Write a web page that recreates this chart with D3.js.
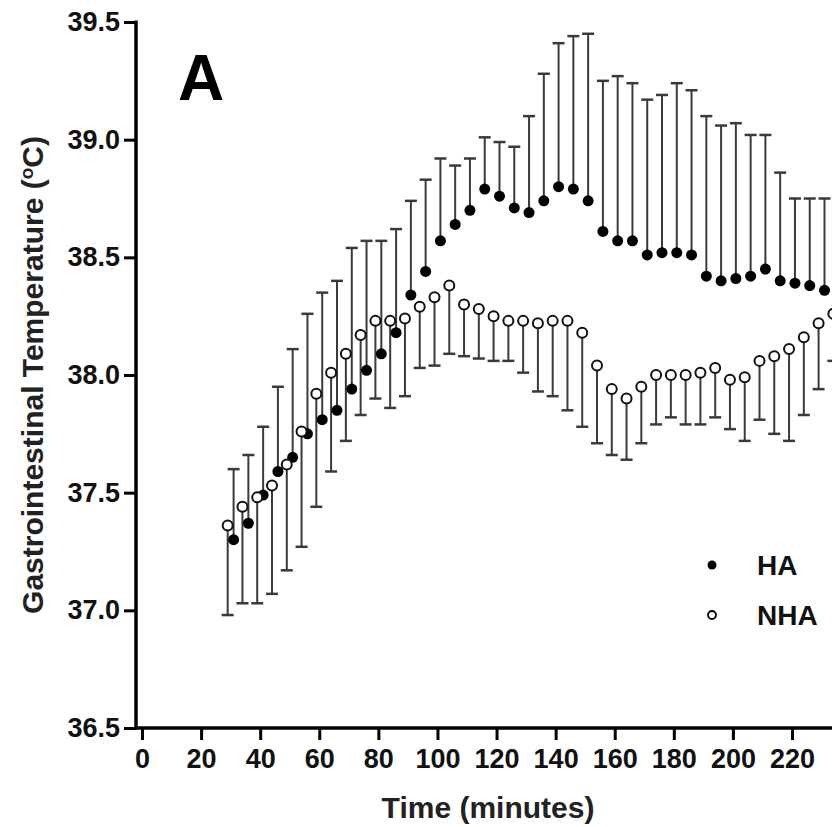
<!DOCTYPE html>
<html>
<head>
<meta charset="utf-8">
<script src="https://cdn.jsdelivr.net/npm/d3@7"></script>
<style>
  html, body { margin: 0; padding: 0; background: #fff; }
  svg { display: block; }
</style>
</head>
<body>
<svg id="chart" width="832" height="827"></svg>
<script>
// time points (minutes) - HA and NHA were sampled slightly offset
var haTime = [31, 36, 41, 46, 51, 56, 61, 66, 71, 76, 81, 86, 91, 96, 101, 106, 111, 116, 121, 126,
    131, 136, 141, 146, 151, 156, 161, 166, 171, 176, 181, 186, 191, 196, 201, 206, 211, 216, 221, 226, 231];
var haMean = [37.30, 37.37, 37.49, 37.59, 37.65, 37.75, 37.81, 37.85, 37.94, 38.02, 38.09, 38.18, 38.34, 38.44,
    38.57, 38.64, 38.70, 38.79, 38.76, 38.71, 38.69, 38.74, 38.80, 38.79, 38.74, 38.61, 38.57, 38.57, 38.51,
    38.52, 38.52, 38.51, 38.42, 38.40, 38.41, 38.42, 38.45, 38.40, 38.39, 38.38, 38.36];
var haSD = [0.30, 0.29, 0.29, 0.36, 0.46, 0.51, 0.54, 0.55, 0.60, 0.55, 0.48, 0.44, 0.40, 0.39, 0.35, 0.25,
    0.22, 0.22, 0.23, 0.26, 0.41, 0.54, 0.61, 0.65, 0.71, 0.64, 0.70, 0.67, 0.66, 0.67, 0.72, 0.70, 0.68,
    0.66, 0.66, 0.60, 0.57, 0.46, 0.36, 0.37, 0.39];

var nhaTime = [29, 34, 39, 44, 49, 54, 59, 64, 69, 74, 79, 84, 89, 94, 99, 104, 109, 114, 119, 124,
    129, 134, 139, 144, 149, 154, 159, 164, 169, 174, 179, 184, 189, 194, 199, 204, 209, 214, 219, 224, 229, 234];
var nhaMean = [37.36, 37.44, 37.48, 37.53, 37.62, 37.76, 37.92, 38.01, 38.09, 38.17, 38.23, 38.23, 38.24,
    38.29, 38.33, 38.38, 38.30, 38.28, 38.25, 38.23, 38.23, 38.22, 38.23, 38.23, 38.18, 38.04, 37.94, 37.90,
    37.95, 38.00, 38.00, 38.00, 38.01, 38.03, 37.98, 37.99, 38.06, 38.08, 38.11, 38.16, 38.22, 38.26];
var nhaSD = [0.38, 0.41, 0.45, 0.46, 0.45, 0.49, 0.48, 0.42, 0.37, 0.34, 0.33, 0.37, 0.33, 0.26, 0.29, 0.29,
    0.22, 0.21, 0.19, 0.17, 0.22, 0.29, 0.32, 0.38, 0.40, 0.33, 0.28, 0.26, 0.24, 0.21, 0.18, 0.21, 0.22,
    0.21, 0.21, 0.27, 0.25, 0.33, 0.39, 0.33, 0.28, 0.20];

var xTicks = [0, 20, 40, 60, 80, 100, 120, 140, 160, 180, 200, 220];
var yTicks = [36.5, 37.0, 37.5, 38.0, 38.5, 39.0, 39.5];
var seriesNames = ["HA", "NHA"];

var svg = d3.select("#chart");
var font = "'Liberation Sans', Arial, Helvetica, sans-serif";
var capW = 6;

var x = d3.scaleLinear()
    .domain([0, 220])
    .range([142, 792]);

var y = d3.scaleLinear()
    .domain([36.5, 39.5])
    .range([728, 22]);

function rows(t, m, s) {
    return t.map(function(d, i) { return { t: d, m: m[i], s: s[i] }; });
}
var ha = rows(haTime, haMean, haSD);
var nha = rows(nhaTime, nhaMean, nhaSD);

// error bars: HA drawn above, NHA below
function bars(data, dir, cls) {
    var g = svg.append("g").attr("class", cls)
        .attr("stroke", "#3a3a3a");
    g.selectAll("line.stem")
        .data(data)
        .enter().append("line")
        .attr("class", "stem")
        .attr("x1", d => x(d.t))
        .attr("x2", d => x(d.t))
        .attr("y1", d => y(d.m))
        .attr("y2", d => y(d.m + dir * d.s))
        .attr("stroke-width", 2);
    g.selectAll("line.cap")
        .data(data)
        .enter().append("line")
        .attr("class", "cap")
        .attr("x1", d => x(d.t) - capW)
        .attr("x2", d => x(d.t) + capW)
        .attr("y1", d => y(d.m + dir * d.s))
        .attr("y2", d => y(d.m + dir * d.s))
        .attr("stroke-width", 2.5);
}
bars(ha, 1, "ha-bars");
bars(nha, -1, "nha-bars");

// points
svg.append("g")
    .selectAll("circle")
    .data(ha)
    .enter().append("circle")
    .attr("cx", d => x(d.t))
    .attr("cy", d => y(d.m))
    .attr("r", 5.5)
    .attr("fill", "#000");

svg.append("g")
    .selectAll("circle")
    .data(nha)
    .enter().append("circle")
    .attr("cx", d => x(d.t))
    .attr("cy", d => y(d.m))
    .attr("r", 5)
    .attr("fill", "#fff")
    .attr("stroke", "#111")
    .attr("stroke-width", 2);

// axes
var yAxis = svg.append("g")
    .attr("transform", "translate(136,0)")
    .call(d3.axisLeft(y).tickValues(yTicks).tickFormat(d3.format(".1f")).tickSize(12).tickPadding(4));
var xAxis = svg.append("g")
    .attr("transform", "translate(0,728)")
    .call(d3.axisBottom(x).tickValues(xTicks).tickSize(12).tickPadding(9));

[yAxis, xAxis].forEach(function(a) {
    a.select(".domain").remove();
    a.selectAll(".tick line").attr("stroke", "#000").attr("stroke-width", 3);
    a.selectAll(".tick text")
        .attr("fill", "#111")
        .style("font-family", font)
        .style("font-weight", "700")
        .style("font-size", "27px");
});

svg.append("line")
    .attr("x1", 136).attr("x2", 136)
    .attr("y1", y(39.5) - 1.5).attr("y2", y(36.5) + 1.5)
    .attr("stroke", "#000").attr("stroke-width", 3.5);
svg.append("line")
    .attr("x1", 136).attr("x2", 832)
    .attr("y1", y(36.5)).attr("y2", y(36.5))
    .attr("stroke", "#000").attr("stroke-width", 3.5);

// titles
svg.append("text")
    .attr("transform", "translate(43,375) rotate(-90)")
    .attr("text-anchor", "middle")
    .style("font-family", font)
    .style("font-weight", "700")
    .style("font-size", "30px")
    .attr("fill", "#222")
    .html("Gastrointestinal Temperature (<tspan dy='-10' font-size='19'>o</tspan><tspan dy='10'>C)</tspan>");

svg.append("text")
    .attr("x", 488)
    .attr("y", 818)
    .attr("text-anchor", "middle")
    .style("font-family", font)
    .style("font-weight", "700")
    .style("font-size", "30px")
    .attr("fill", "#222")
    .text("Time (minutes)");

svg.append("text")
    .attr("x", 178)
    .attr("y", 100)
    .style("font-family", font)
    .style("font-weight", "700")
    .style("font-size", "64px")
    .attr("fill", "#000")
    .text("A");

// legend
var legend = svg.append("g").attr("transform", "translate(712,565)");
seriesNames.forEach(function(name, i) {
    var row = legend.append("g").attr("transform", "translate(0," + (i * 50) + ")");
    row.append("circle")
        .attr("r", i === 0 ? 4.5 : 4)
        .attr("fill", i === 0 ? "#000" : "#fff")
        .attr("stroke", "#000")
        .attr("stroke-width", i === 0 ? 0 : 1.8);
    row.append("text")
        .attr("x", 45)
        .attr("dy", "0.36em")
        .style("font-family", font)
        .style("font-weight", "700")
        .style("font-size", "28px")
        .attr("fill", "#111")
        .text(name);
});
</script>
</body>
</html>
